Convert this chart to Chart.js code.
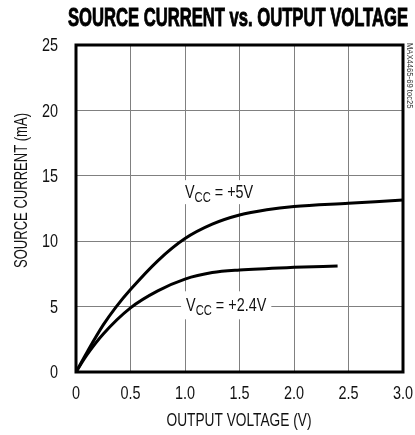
<!DOCTYPE html>
<html>
<head>
<meta charset="utf-8">
<script src="https://cdn.jsdelivr.net/npm/chart.js@4.4.0/dist/chart.umd.min.js"></script>
<style>
  html, body { margin: 0; padding: 0; background: #fff; }
  canvas { display: block; }
</style>
</head>
<body>
<canvas id="srcChart" width="415" height="435"></canvas>
<script>
// values
const volts5 = [0, 0.1, 0.25, 0.37, 0.5, 0.75, 1.0, 1.25, 1.5, 1.75, 2.0, 2.5, 3.0];
const amps5 = [0, 1.5, 3.6, 5.0, 6.3, 8.5, 10.2, 11.3, 12.0, 12.4, 12.65, 12.9, 13.15];
const volts24 = [0, 0.1, 0.25, 0.5, 0.75, 1.0, 1.25, 1.5, 2.0, 2.4];
const amps24 = [0, 1.3, 2.9, 4.9, 6.2, 7.1, 7.6, 7.8, 8.0, 8.1];
const xTicks = ['0', '0.5', '1.0', '1.5', '2.0', '2.5', '3.0'];
const yTicks = ['0', '5', '10', '15', '20', '25'];

// Helvetica Condensed look: Liberation Sans squeezed sideways
const FONT = '"Liberation Sans", Arial, sans-serif';
const SQ = 0.8;

function pts(xs, ys) {
    return xs.map((x, i) => ({ x: x, y: ys[i] }));
}

function narrowText(ctx, txt, x, y, font, align, base, sx) {
    ctx.save();
    ctx.font = font;
    ctx.textAlign = align;
    ctx.textBaseline = base;
    ctx.translate(x, y);
    ctx.scale(sx, 1);
    ctx.fillText(txt, 0, 0);
    ctx.restore();
}

// squeezed to a given width
function fitText(ctx, txt, x, y, font, width, rot) {
    ctx.save();
    ctx.font = font;
    const w = ctx.measureText(txt).width;
    ctx.textAlign = 'center';
    ctx.textBaseline = 'middle';
    ctx.translate(x, y);
    if (rot) ctx.rotate(rot);
    ctx.scale(width / w, 1);
    ctx.fillText(txt, 0, 0);
    ctx.restore();
}

// "V" + subscript "CC" + rest, on a white box
function vccLabel(ctx, x, yMid, rest, box) {
    ctx.save();
    ctx.font = '18px ' + FONT;
    const wV = ctx.measureText('V').width * SQ;
    const wRest = ctx.measureText(rest).width * SQ;
    ctx.font = '14px ' + FONT;
    const wCC = ctx.measureText('CC').width * SQ;
    const total = wV + wCC + wRest;
    ctx.fillStyle = '#fff';
    ctx.fillRect(x - box[0], yMid - box[1], total + box[0] + box[2], box[1] * 2);
    ctx.fillStyle = '#111';
    const base = yMid + 6;
    narrowText(ctx, 'V', x, base, '18px ' + FONT, 'left', 'alphabetic', SQ);
    narrowText(ctx, 'CC', x + wV, base + 4, '14px ' + FONT, 'left', 'alphabetic', SQ);
    narrowText(ctx, rest, x + wV + wCC, base, '18px ' + FONT, 'left', 'alphabetic', SQ);
    ctx.restore();
}

const decor = {
    id: 'decor',
    afterDatasetsDraw(chart) {
        const ctx = chart.ctx;
        const a = chart.chartArea;
        const xs = chart.scales.x, ys = chart.scales.y;

        // curve labels
        vccLabel(ctx, xs.getPixelForValue(1.0), ys.getPixelForValue(13.75), ' = +5V', [3, 12, 4]);
        vccLabel(ctx, xs.getPixelForValue(1.01), ys.getPixelForValue(5.1), ' = +2.4V', [5, 14, 5]);

        // heavy frame
        ctx.save();
        ctx.strokeStyle = '#000';
        ctx.lineWidth = 3;
        ctx.strokeRect(a.left, a.top, a.right - a.left, a.bottom - a.top);
        ctx.restore();

        // tick labels
        ctx.save();
        ctx.fillStyle = '#111';
        xs.ticks.forEach((t, i) => {
            narrowText(ctx, xTicks[i], xs.getPixelForValue(t.value), 394, '19px ' + FONT, 'center', 'middle', 0.76);
        });
        ys.ticks.forEach((t, i) => {
            narrowText(ctx, yTicks[i], 58, ys.getPixelForValue(t.value) + 1, '19px ' + FONT, 'right', 'middle', 0.76);
        });

        // axis titles
        fitText(ctx, 'OUTPUT VOLTAGE (V)', 239, 421, '19px ' + FONT, 145);
        fitText(ctx, 'SOURCE CURRENT (mA)', 21.5, 190.5, '19px ' + FONT, 155, -Math.PI / 2);
        ctx.restore();

        // chart title
        ctx.save();
        ctx.fillStyle = '#000';
        ctx.font = 'bold 25px ' + FONT;
        ctx.textBaseline = 'alphabetic';
        const t = 'SOURCE CURRENT vs. OUTPUT VOLTAGE';
        const w = ctx.measureText(t).width;
        ctx.translate(68, 25.5);
        ctx.scale(340 / w, 1);
        ctx.lineWidth = 0.9;
        ctx.strokeStyle = '#000';
        ctx.strokeText(t, 0, 0);
        ctx.fillText(t, 0, 0);
        ctx.restore();

        // figure id
        ctx.save();
        ctx.fillStyle = '#333';
        ctx.font = '9px ' + FONT;
        ctx.textAlign = 'left';
        ctx.textBaseline = 'middle';
        ctx.translate(409.5, 43);
        ctx.rotate(Math.PI / 2);
        ctx.scale(0.85, 1);
        ctx.fillText('MAX4465-69 toc25', 0, 0);
        ctx.restore();
    }
};

const ctx = document.getElementById('srcChart').getContext('2d');
const srcChart = new Chart(ctx, {
    type: 'line',
    data: {
        datasets: [{
            label: 'VCC = +5V',
            data: pts(volts5, amps5),
            borderColor: '#000',
            borderWidth: 3,
            pointRadius: 0,
            cubicInterpolationMode: 'monotone'
        }, {
            label: 'VCC = +2.4V',
            data: pts(volts24, amps24),
            borderColor: '#000',
            borderWidth: 3,
            pointRadius: 0,
            cubicInterpolationMode: 'monotone'
        }]
    },
    options: {
        responsive: false,
        animation: false,
        layout: { padding: { top: 45, right: 12, left: 0, bottom: 0 } },
        plugins: { legend: { display: false }, tooltip: { enabled: false } },
        scales: {
            x: {
                type: 'linear',
                min: 0, max: 3,
                afterFit: s => { s.height = 63; },
                afterBuildTicks: s => { s.ticks = xTicks.map(v => ({ value: parseFloat(v) })); },
                ticks: { display: false },
                grid: { color: '#808080', lineWidth: 1, drawTicks: false },
                border: { display: false }
            },
            y: {
                min: 0, max: 25,
                afterFit: s => { s.width = 76; },
                afterBuildTicks: s => { s.ticks = yTicks.map(v => ({ value: parseFloat(v) })); },
                ticks: { display: false },
                grid: { color: '#808080', lineWidth: 1, drawTicks: false },
                border: { display: false }
            }
        }
    },
    plugins: [decor]
});
</script>
</body>
</html>
